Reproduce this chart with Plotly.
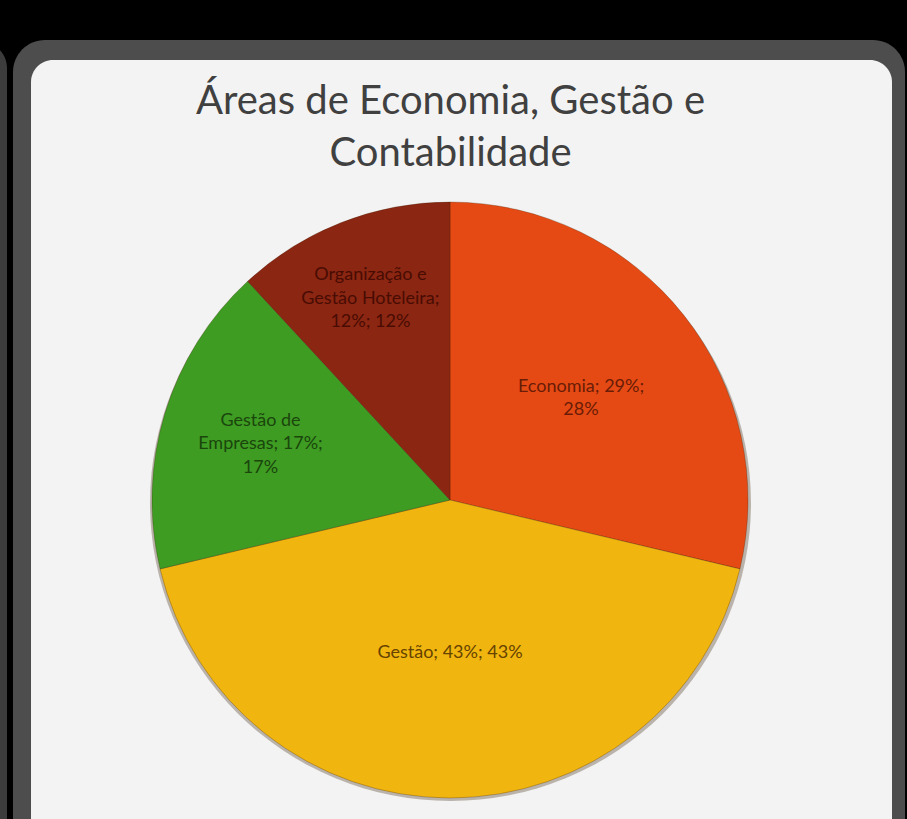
import plotly.graph_objects as go

W, H = 907, 819

categories = ["Economia", "Gestão", "Gestão de Empresas", "Organização e Gestão Hoteleira"]
values = [29, 43, 17, 12]
value_labels = ["29%", "43%", "17%", "12%"]
percent_labels = ["28%", "43%", "17%", "12%"]
slice_texts = [
    "Economia; 29%;<br>28%",
    "Gestão; 43%; 43%",
    "Gestão de<br>Empresas; 17%;<br>17%",
    "Organização e<br>Gestão Hoteleira;<br>12%; 12%",
]
colors = ["#e64a14", "#f1b50f", "#3e9c23", "#8b2612"]
text_colors = ["#6a1c06", "#664300", "#1a460c", "#480c03"]


def px(x):
    return x / W


def py(y):
    return 1 - y / H


def rounded_rect(x0, y0, x1, y1, r):
    k = 0.5523 * r
    pts = [
        f"M {px(x0 + r)},{py(y0)}",
        f"L {px(x1 - r)},{py(y0)}",
        f"C {px(x1 - r + k)},{py(y0)} {px(x1)},{py(y0 + r - k)} {px(x1)},{py(y0 + r)}",
        f"L {px(x1)},{py(y1 - r)}",
        f"C {px(x1)},{py(y1 - r + k)} {px(x1 - r + k)},{py(y1)} {px(x1 - r)},{py(y1)}",
        f"L {px(x0 + r)},{py(y1)}",
        f"C {px(x0 + r - k)},{py(y1)} {px(x0)},{py(y1 - r + k)} {px(x0)},{py(y1 - r)}",
        f"L {px(x0)},{py(y0 + r)}",
        f"C {px(x0)},{py(y0 + r - k)} {px(x0 + r - k)},{py(y0)} {px(x0 + r)},{py(y0)}",
        "Z",
    ]
    return " ".join(pts)


fig = go.Figure()
fig.add_trace(
    go.Pie(
        labels=categories,
        values=values,
        text=slice_texts,
        texttemplate="%{text}",
        textposition="inside",
        insidetextorientation="horizontal",
        textfont=dict(family="Lato", size=18, color=text_colors),
        marker=dict(colors=colors, line=dict(color="rgba(60,30,0,0.35)", width=0.8)),
        sort=False,
        direction="clockwise",
        rotation=0,
        showlegend=False,
        hoverinfo="label+value+percent",
        domain=dict(x=[px(150), px(750)], y=[py(798), py(202)]),
    )
)

shapes = [
    dict(type="path", path=rounded_rect(-40, 42, 7, 900, 26), xref="paper", yref="paper",
         fillcolor="#3c3c3c", line=dict(width=0), layer="below"),
    dict(type="path", path=rounded_rect(13, 40, 905, 900, 32), xref="paper", yref="paper",
         fillcolor="#4d4d4d", line=dict(width=0), layer="below"),
    dict(type="path", path=rounded_rect(31, 60, 892, 900, 22), xref="paper", yref="paper",
         fillcolor="#f3f3f3", line=dict(width=0), layer="below"),
    dict(type="circle", xref="paper", yref="paper",
         x0=px(150), x1=px(751), y0=py(801), y1=py(205),
         fillcolor="rgba(80,60,40,0.35)", line=dict(width=0), layer="below"),
]

fig.update_layout(
    width=W,
    height=H,
    paper_bgcolor="#000000",
    plot_bgcolor="#000000",
    margin=dict(l=0, r=0, t=0, b=0),
    shapes=shapes,
    annotations=[
        dict(text="Áreas de Economia, Gestão e<br>Contabilidade", x=px(450), y=py(125),
             xref="paper", yref="paper", showarrow=False, xanchor="center", yanchor="middle",
             font=dict(family="Lato", size=40, color="#404040")),
    ],
)

fig.write_html("out.html", config={"displayModeBar": False},
               post_script="document.body.style.margin='0';")
